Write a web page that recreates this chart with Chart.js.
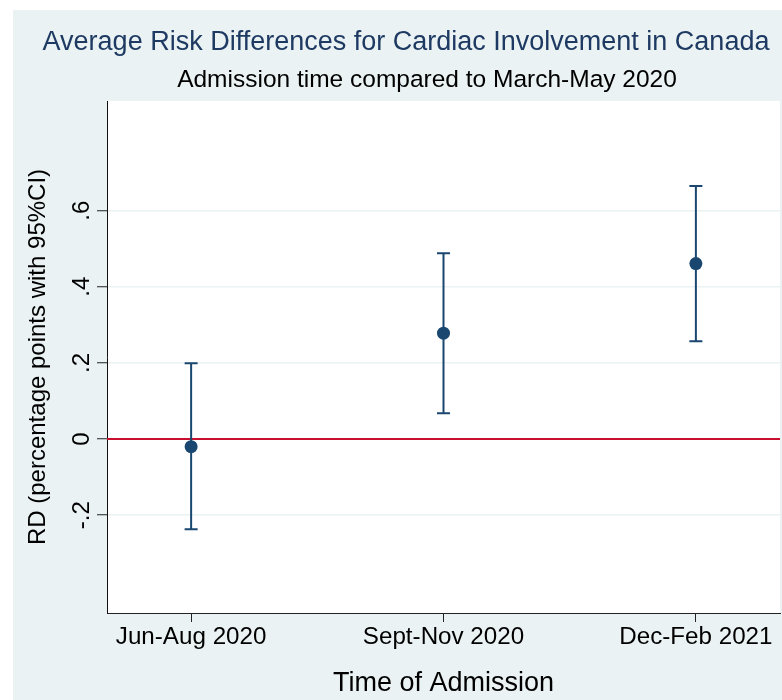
<!DOCTYPE html>
<html>
<head>
<meta charset="utf-8">
<style>
  html, body { margin: 0; padding: 0; background: #fff; }
  canvas { display: block; }
</style>
<script src="https://cdn.jsdelivr.net/npm/chart.js@4.4.0/dist/chart.umd.min.js"></script>
</head>
<body>
<canvas id="rdChart" width="782" height="700"></canvas>
<script>
const categories = ['Jun-Aug 2020', 'Sept-Nov 2020', 'Dec-Feb 2021'];
const rd = [-0.02, 0.278, 0.461];
const ciLow = [-0.237, 0.068, 0.257];
const ciHigh = [0.199, 0.488, 0.665];
const yTicks = [-0.2, 0, 0.2, 0.4, 0.6];
const yTickLabels = ['-.2', '0', '.2', '.4', '.6'];

const FONT = '"Liberation Sans", Arial, Helvetica, sans-serif';
const NAVY = '#1A476F';
const BG = '#EAF2F3';

// backgrounds: white border, bluish graph region, white plot region
const backgroundPlugin = {
  id: 'stataBg',
  beforeDraw(chart) {
    const { ctx, chartArea: a } = chart;
    ctx.save();
    ctx.fillStyle = '#ffffff';
    ctx.fillRect(0, 0, chart.width, chart.height);
    ctx.fillStyle = BG;
    ctx.fillRect(13, 10, chart.width - 13, chart.height - 10);
    ctx.fillStyle = '#ffffff';
    ctx.fillRect(a.left, a.top, a.right - a.left, a.bottom - a.top);
    ctx.restore();
  }
};

// title + subtitle
const titlePlugin = {
  id: 'titles',
  afterDraw(chart) {
    const ctx = chart.ctx;
    ctx.save();
    ctx.textAlign = 'center';
    ctx.textBaseline = 'alphabetic';
    ctx.fillStyle = '#1E3A62';
    ctx.font = '27px ' + FONT;
    ctx.fillText('Average Risk Differences for Cardiac Involvement in Canada', 406, 50);
    ctx.fillStyle = '#000';
    ctx.font = '24.5px ' + FONT;
    ctx.fillText('Admission time compared to March-May 2020', 427, 87);
    ctx.restore();
  }
};

// y tick labels are rotated in the original
const yLabelPlugin = {
  id: 'yLabels',
  afterDraw(chart) {
    const ctx = chart.ctx;
    const y = chart.scales.y;
    ctx.save();
    ctx.fillStyle = '#000';
    ctx.font = '24px ' + FONT;
    ctx.textAlign = 'center';
    ctx.textBaseline = 'alphabetic';
    yTicks.forEach((v, i) => {
      ctx.save();
      ctx.translate(89, y.getPixelForValue(v));
      ctx.rotate(-Math.PI / 2);
      ctx.fillText(yTickLabels[i], 0, 0);
      ctx.restore();
    });
    ctx.restore();
  }
};

// zero reference line and CI bars
const ciPlugin = {
  id: 'ciBars',
  beforeDatasetsDraw(chart) {
    const { ctx, chartArea: a, scales: { x, y } } = chart;
    ctx.save();
    const y0 = y.getPixelForValue(0);
    ctx.strokeStyle = '#C8102E';
    ctx.lineWidth = 2;
    ctx.beginPath();
    ctx.moveTo(a.left, y0);
    ctx.lineTo(a.right, y0);
    ctx.stroke();

    ctx.strokeStyle = NAVY;
    ctx.lineWidth = 2;
    const cap = 6.5;
    categories.forEach((c, i) => {
      const px = x.getPixelForValue(i + 1);
      const lo = y.getPixelForValue(ciLow[i]);
      const hi = y.getPixelForValue(ciHigh[i]);
      ctx.beginPath();
      ctx.moveTo(px, lo); ctx.lineTo(px, hi);
      ctx.moveTo(px - cap, lo); ctx.lineTo(px + cap, lo);
      ctx.moveTo(px - cap, hi); ctx.lineTo(px + cap, hi);
      ctx.stroke();
    });
    ctx.restore();
  }
};

const config = {
  type: 'scatter',
  data: {
    datasets: [{
      label: 'RD',
      data: rd.map((v, i) => ({ x: i + 1, y: v })),
      backgroundColor: NAVY,
      borderColor: NAVY,
      pointRadius: 6.5,
      pointHoverRadius: 6.5,
      borderWidth: 0
    }]
  },
  options: {
    responsive: false,
    animation: false,
    devicePixelRatio: 1,
    layout: { autoPadding: false, padding: { top: 101, left: 0, right: 2, bottom: 0 } },
    plugins: {
      legend: { display: false },
      tooltip: { enabled: false }
    },
    scales: {
      x: {
        type: 'linear',
        min: 2 / 3,
        max: 3 + 1 / 3,
        afterBuildTicks: (s) => { s.ticks = categories.map((c, i) => ({ value: i + 1 })); },
        afterFit: (s) => { s.height = 87; },
        ticks: {
          autoSkip: false,
          maxRotation: 0,
          padding: 1,
          color: '#000',
          font: { family: FONT, size: 24.2 },
          callback: (v) => categories[v - 1]
        },
        grid: {
          drawOnChartArea: false,
          drawTicks: true,
          tickLength: 9,
          tickColor: '#222',
          tickWidth: 1
        },
        border: { display: true, color: '#222', width: 1 },
        title: {
          display: true,
          text: 'Time of Admission',
          color: '#000',
          font: { family: FONT, size: 27 },
          padding: { top: 0, bottom: 0 }
        }
      },
      y: {
        min: -0.457,
        max: 0.888,
        afterBuildTicks: (s) => { s.ticks = yTicks.map((v) => ({ value: v })); },
        afterFit: (s) => { s.width = 107; },
        ticks: {
          color: 'rgba(0,0,0,0)',
          font: { family: FONT, size: 24 },
          callback: (v) => ''
        },
        grid: {
          color: BG,
          lineWidth: 1.5,
          drawTicks: true,
          tickLength: 10,
          tickColor: '#222',
          tickWidth: 1
        },
        border: { display: true, color: '#111', width: 1 },
        title: {
          display: true,
          text: 'RD (percentage points with 95%CI)',
          color: '#000',
          font: { family: FONT, size: 24 },
          padding: { top: 24, bottom: 0 }
        }
      }
    }
  },
  plugins: [backgroundPlugin, ciPlugin, yLabelPlugin, titlePlugin]
};

const ctx = document.getElementById('rdChart').getContext('2d');
new Chart(ctx, config);
</script>
</body>
</html>
